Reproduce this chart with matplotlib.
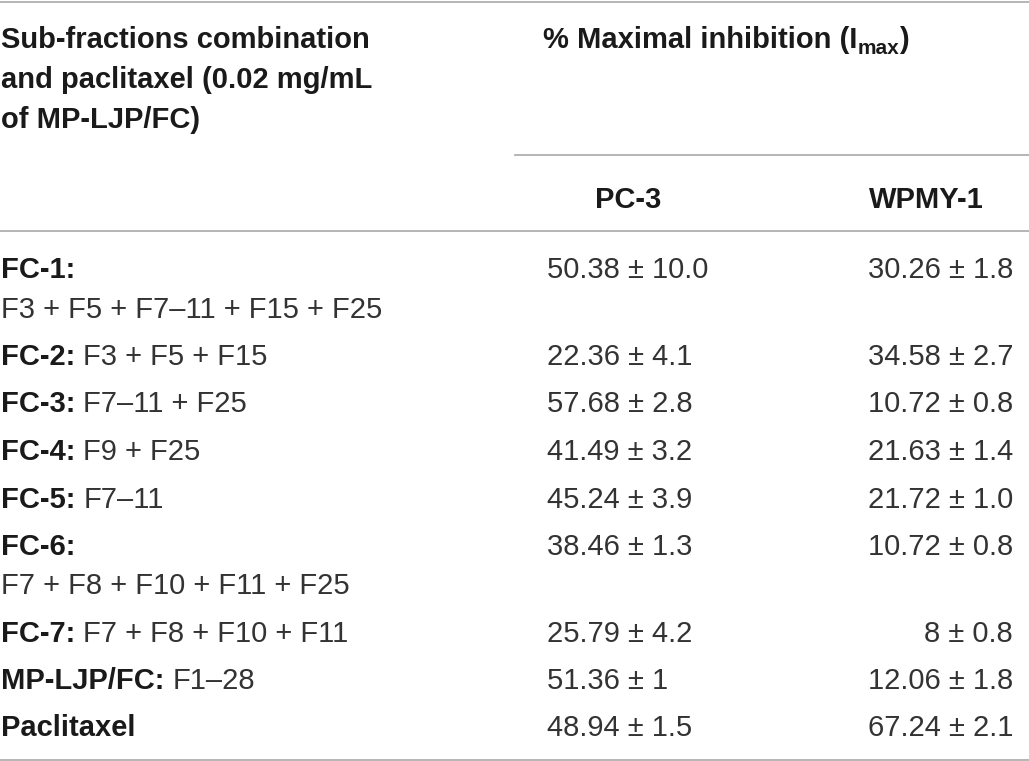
import matplotlib
matplotlib.use("Agg")
import matplotlib.pyplot as plt

# -----------------------------
# Table data
# -----------------------------
col_header = ["Sub-fractions combination", "and paclitaxel (0.02 mg/mL", "of MP-LJP/FC)"]
group_header = "% Maximal inhibition (I"
group_sub = "max"
cell_lines = ["PC-3", "WPMY-1"]

row_names = ["FC-1:", "FC-2:", "FC-3:", "FC-4:", "FC-5:", "FC-6:", "FC-7:", "MP-LJP/FC:", "Paclitaxel"]
row_parts = ["F3 + F5 + F7\u201311 + F15 + F25", "F3 + F5 + F15", "F7\u201311 + F25", "F9 + F25",
             "F7\u201311", "F7 + F8 + F10 + F11 + F25", "F7 + F8 + F10 + F11", "F1\u201328", ""]
pc3_vals = ["50.38 \u00b1 10.0", "22.36 \u00b1 4.1", "57.68 \u00b1 2.8", "41.49 \u00b1 3.2", "45.24 \u00b1 3.9",
            "38.46 \u00b1 1.3", "25.79 \u00b1 4.2", "51.36 \u00b1 1", "48.94 \u00b1 1.5"]
wpmy_vals = ["30.26 \u00b1 1.8", "34.58 \u00b1 2.7", "10.72 \u00b1 0.8", "21.63 \u00b1 1.4", "21.72 \u00b1 1.0",
             "10.72 \u00b1 0.8", "8 \u00b1 0.8", "12.06 \u00b1 1.8", "67.24 \u00b1 2.1"]

# -----------------------------
# Figure setup (pixel coordinates)
# -----------------------------
W, H = 1029, 761
fig = plt.figure(figsize=(W / 100, H / 100), dpi=100)
ax = fig.add_axes([0, 0, 1, 1])
ax.set_xlim(0, W)
ax.set_ylim(H, 0)
ax.axis("off")

FONT = "Liberation Sans"
FS = 21
BOLD_C = "#1a1a1a"
REG_C = "#333333"
LINE_C = "#b0b0b0"
renderer = fig.canvas.get_renderer()


def put(x, y, s, weight="normal", size=FS, ha="left", color=None):
    if color is None:
        color = BOLD_C if weight == "bold" else REG_C
    t = ax.text(x, y, s, fontsize=size, fontweight=weight, family=FONT,
                ha=ha, va="baseline", color=color)
    return t


def width_px(t):
    return t.get_window_extent(renderer=renderer).width


# text centre -> baseline
BL = 10.5

# horizontal rules
ax.plot([0, W], [1.5, 1.5], color=LINE_C, lw=1.3)
ax.plot([515, W], [155, 155], color=LINE_C, lw=1.3)
ax.plot([0, W], [231, 231], color=LINE_C, lw=1.3)
ax.plot([0, W], [759.5, 759.5], color=LINE_C, lw=1.3)

# header
for i, line in enumerate(col_header):
    put(1, 37 + BL + i * 40.5, line, weight="bold")

t = put(543, 37 + BL, group_header, weight="bold")
x = 543 + width_px(t)
t2 = put(x, 37 + BL + 6, group_sub, weight="bold", size=15)
x += width_px(t2)
put(x, 37 + BL, ")", weight="bold")

put(628, 198 + BL, cell_lines[0], weight="bold", ha="center")
put(984, 198 + BL, cell_lines[1], weight="bold", ha="right")

# body rows
y = 268
for name, part, v1, v2 in zip(row_names, row_parts, pc3_vals, wpmy_vals):
    t = put(1, y + BL, name, weight="bold")
    put(547, y + BL, v1)
    put(1013, y + BL, v2, ha="right")
    wname = width_px(t)
    if part:
        tp = put(1 + wname + 8, y + BL, part)
        if wname + width_px(tp) > 410:
            tp.remove()
            y += 39
            put(1, y + BL, part)
    y += 47.5

fig.savefig("out.png", dpi=100)
